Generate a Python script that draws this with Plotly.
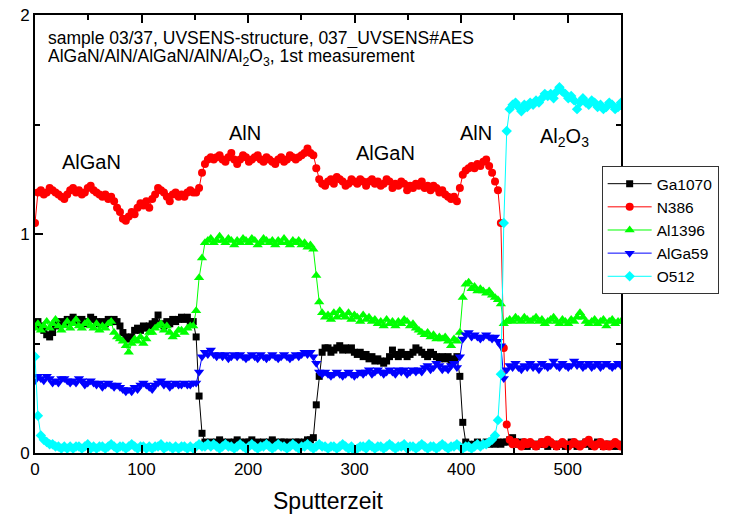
import plotly.graph_objects as go

# sampling grid of the depth profile (sputter time), 201 samples 0..550
sputter_time = [round(2.75 * i, 2) for i in range(201)]

ga1070 = [
    0.58, 0.60, 0.58, 0.56, 0.54, 0.53, 0.55, 0.58, 0.59, 0.60,
    0.59, 0.61, 0.60, 0.62, 0.61, 0.60, 0.61, 0.59, 0.60, 0.62,
    0.61, 0.60, 0.59, 0.60, 0.59, 0.61, 0.60, 0.61, 0.60, 0.58,
    0.55, 0.53, 0.52, 0.53, 0.56, 0.57, 0.56, 0.58, 0.57, 0.58,
    0.59, 0.60, 0.63, 0.59, 0.58, 0.60, 0.59, 0.61, 0.60, 0.61,
    0.62, 0.61, 0.62, 0.60, 0.60, 0.53, 0.26, 0.09, 0.05, 0.04,
    0.05, 0.04, 0.05, 0.06, 0.05, 0.04, 0.05, 0.04, 0.05, 0.06,
    0.05, 0.04, 0.05, 0.05, 0.06, 0.04, 0.05, 0.04, 0.05, 0.04,
    0.05, 0.06, 0.05, 0.04, 0.05, 0.05, 0.04, 0.05, 0.04, 0.05,
    0.05, 0.04, 0.05, 0.06, 0.06, 0.07, 0.22, 0.35, 0.46, 0.48,
    0.48, 0.46, 0.47, 0.48, 0.49, 0.47, 0.48, 0.47, 0.48, 0.46,
    0.45, 0.46, 0.44, 0.45, 0.43, 0.44, 0.42, 0.43, 0.42, 0.41,
    0.42, 0.44, 0.47, 0.45, 0.44, 0.46, 0.45, 0.44, 0.45, 0.46,
    0.48, 0.47, 0.46, 0.45, 0.44, 0.46, 0.45, 0.44, 0.43, 0.44,
    0.43, 0.44, 0.42, 0.43, 0.44, 0.35, 0.14, 0.05, 0.04, 0.03,
    0.04, 0.05, 0.04, 0.04, 0.05, 0.04, 0.05, 0.04, 0.05, 0.04,
    0.05, 0.05, 0.06, 0.07, 0.05, 0.04, 0.05, 0.04, 0.03, 0.04,
    0.04, 0.03, 0.04, 0.05, 0.04, 0.03, 0.04, 0.04, 0.03, 0.04,
    0.04, 0.03, 0.04, 0.05, 0.04, 0.03, 0.04, 0.04, 0.05, 0.04,
    0.03, 0.04, 0.05, 0.04, 0.03, 0.04, 0.04, 0.03, 0.04, 0.03, 0.04,
]

n386 = [
    1.05, 1.19, 1.20, 1.18, 1.19, 1.21, 1.20, 1.19, 1.18, 1.17,
    1.16, 1.18, 1.20, 1.21, 1.19, 1.20, 1.18, 1.19, 1.21, 1.22,
    1.20, 1.19, 1.18, 1.17, 1.18, 1.16, 1.17, 1.15, 1.12, 1.10,
    1.07, 1.06, 1.08, 1.10, 1.09, 1.12, 1.14, 1.13, 1.15, 1.12,
    1.16, 1.18, 1.21, 1.20, 1.19, 1.17, 1.15, 1.18, 1.19, 1.17,
    1.18, 1.17, 1.19, 1.20, 1.19, 1.19, 1.21, 1.28, 1.32, 1.34,
    1.35, 1.34, 1.35, 1.36, 1.34, 1.33, 1.35, 1.37, 1.34, 1.32,
    1.34, 1.36, 1.35, 1.33, 1.34, 1.35, 1.36, 1.34, 1.33, 1.35,
    1.34, 1.33, 1.32, 1.34, 1.35, 1.33, 1.34, 1.36, 1.35, 1.34,
    1.35, 1.36, 1.37, 1.39, 1.37, 1.36, 1.30, 1.25, 1.23, 1.22,
    1.24, 1.25, 1.23, 1.26, 1.25, 1.24, 1.22, 1.23, 1.25, 1.24,
    1.23, 1.25, 1.24, 1.22, 1.24, 1.25, 1.23, 1.24, 1.22, 1.23,
    1.25, 1.24, 1.21, 1.23, 1.22, 1.24, 1.23, 1.20, 1.22, 1.21,
    1.23, 1.22, 1.24, 1.21, 1.22, 1.20, 1.22, 1.21, 1.19, 1.20,
    1.18, 1.17, 1.16, 1.17, 1.15, 1.21, 1.27, 1.29, 1.30, 1.31,
    1.30, 1.32, 1.31, 1.33, 1.34, 1.31, 1.28, 1.24, 1.20, 1.05,
    0.48, 0.13, 0.06, 0.04, 0.05, 0.04, 0.03, 0.05, 0.04, 0.05,
    0.04, 0.03, 0.04, 0.05, 0.04, 0.06, 0.05, 0.04, 0.03, 0.04,
    0.05, 0.04, 0.03, 0.04, 0.05, 0.04, 0.03, 0.04, 0.05, 0.06,
    0.04, 0.03, 0.04, 0.05, 0.03, 0.04, 0.03, 0.04, 0.05, 0.04, 0.03,
]

al1396 = [
    0.57, 0.59, 0.56, 0.58, 0.60, 0.57, 0.59, 0.61, 0.58, 0.56,
    0.58, 0.60, 0.57, 0.59, 0.61, 0.58, 0.57, 0.59, 0.60, 0.58,
    0.57, 0.59, 0.56, 0.58, 0.57, 0.59, 0.60, 0.55, 0.53, 0.52,
    0.51, 0.49, 0.46, 0.50, 0.52, 0.51, 0.53, 0.50, 0.52, 0.55,
    0.55, 0.57, 0.58, 0.59, 0.56, 0.58, 0.55, 0.53, 0.54, 0.56,
    0.56, 0.55, 0.57, 0.58, 0.58, 0.65, 0.80, 0.89, 0.96, 0.97,
    0.98, 0.96, 0.97, 0.99, 0.97, 0.96, 0.98, 0.97, 0.95, 0.97,
    0.96, 0.98, 0.97, 0.96, 0.98, 0.97, 0.95, 0.96, 0.98, 0.97,
    0.96, 0.97, 0.95, 0.97, 0.96, 0.98, 0.96, 0.95, 0.97, 0.96,
    0.97, 0.95, 0.96, 0.94, 0.95, 0.93, 0.81, 0.69, 0.64, 0.62,
    0.63, 0.61, 0.64, 0.62, 0.65, 0.63, 0.62, 0.64, 0.61, 0.63,
    0.62, 0.60, 0.63, 0.61, 0.62, 0.60, 0.61, 0.59, 0.60, 0.58,
    0.61, 0.59, 0.60, 0.58, 0.60, 0.59, 0.61, 0.60, 0.58, 0.59,
    0.57, 0.56, 0.55, 0.54, 0.55, 0.53, 0.54, 0.52, 0.53, 0.52,
    0.53, 0.51, 0.49, 0.52, 0.51, 0.55, 0.71, 0.77, 0.78, 0.75,
    0.76, 0.74, 0.75, 0.74, 0.73, 0.74, 0.72, 0.71, 0.70, 0.68,
    0.59, 0.60, 0.61, 0.60, 0.62, 0.61, 0.60, 0.62, 0.61, 0.60,
    0.61, 0.62, 0.60, 0.61, 0.59, 0.60, 0.61, 0.62, 0.60, 0.59,
    0.61, 0.60, 0.59, 0.61, 0.60, 0.62, 0.64, 0.62, 0.60, 0.59,
    0.60, 0.61, 0.59, 0.60, 0.61, 0.58, 0.60, 0.61, 0.59, 0.60, 0.60,
]

alga59 = [
    0.33, 0.35, 0.34, 0.33, 0.35, 0.34, 0.32, 0.33, 0.32, 0.34,
    0.34, 0.33, 0.32, 0.33, 0.32, 0.34, 0.33, 0.31, 0.32, 0.33,
    0.32, 0.31, 0.32, 0.30, 0.31, 0.32, 0.31, 0.30, 0.31, 0.30,
    0.29, 0.28, 0.29, 0.28, 0.30, 0.29, 0.31, 0.32, 0.31, 0.30,
    0.29, 0.31, 0.32, 0.33, 0.31, 0.32, 0.30, 0.31, 0.32, 0.31,
    0.31, 0.32, 0.31, 0.31, 0.32, 0.32, 0.37, 0.44, 0.46, 0.45,
    0.47, 0.45, 0.44, 0.45, 0.44, 0.45, 0.43, 0.44, 0.45, 0.44,
    0.45, 0.44, 0.43, 0.44, 0.45, 0.44, 0.43, 0.45, 0.44, 0.43,
    0.44, 0.45, 0.44, 0.43, 0.44, 0.45, 0.44, 0.43, 0.44, 0.45,
    0.44, 0.45, 0.46, 0.45, 0.46, 0.44, 0.41, 0.37, 0.36, 0.37,
    0.36, 0.35, 0.36, 0.37, 0.36, 0.35, 0.36, 0.37, 0.36, 0.35,
    0.36, 0.37, 0.36, 0.37, 0.38, 0.36, 0.37, 0.38, 0.37, 0.36,
    0.37, 0.38, 0.37, 0.36, 0.38, 0.37, 0.38, 0.36, 0.37, 0.38,
    0.37, 0.38, 0.37, 0.39, 0.40, 0.38, 0.39, 0.41, 0.40, 0.38,
    0.39, 0.38, 0.40, 0.41, 0.39, 0.44, 0.52, 0.54, 0.55, 0.53,
    0.54, 0.53, 0.52, 0.53, 0.54, 0.53, 0.52, 0.53, 0.51, 0.49,
    0.34, 0.38, 0.40, 0.39, 0.41, 0.39, 0.38, 0.40, 0.39, 0.41,
    0.39, 0.40, 0.38, 0.41, 0.40, 0.39, 0.40, 0.42, 0.40, 0.39,
    0.41, 0.40, 0.39, 0.40, 0.42, 0.40, 0.41, 0.39, 0.40, 0.41,
    0.39, 0.40, 0.41, 0.39, 0.40, 0.41, 0.40, 0.39, 0.40, 0.41, 0.40,
]

o512 = [
    0.44, 0.17, 0.08, 0.06, 0.05, 0.04, 0.04, 0.03, 0.03, 0.02,
    0.03, 0.02, 0.03, 0.02, 0.03, 0.03, 0.02, 0.03, 0.04, 0.02,
    0.03, 0.02, 0.03, 0.03, 0.02, 0.03, 0.04, 0.03, 0.02, 0.03,
    0.03, 0.02, 0.03, 0.04, 0.03, 0.02, 0.03, 0.03, 0.02, 0.03,
    0.02, 0.03, 0.03, 0.04, 0.02, 0.03, 0.03, 0.02, 0.03, 0.02,
    0.03, 0.03, 0.02, 0.03, 0.02, 0.03, 0.04, 0.03, 0.03, 0.04,
    0.03, 0.04, 0.03, 0.02, 0.03, 0.04, 0.03, 0.03, 0.02, 0.03,
    0.04, 0.03, 0.02, 0.03, 0.04, 0.03, 0.02, 0.03, 0.03, 0.04,
    0.03, 0.02, 0.03, 0.04, 0.03, 0.03, 0.02, 0.03, 0.04, 0.03,
    0.02, 0.03, 0.03, 0.04, 0.03, 0.02, 0.03, 0.04, 0.03, 0.03,
    0.02, 0.03, 0.03, 0.02, 0.03, 0.04, 0.03, 0.02, 0.03, 0.01,
    0.02, 0.03, 0.03, 0.02, 0.04, 0.03, 0.02, 0.03, 0.03, 0.02,
    0.03, 0.04, 0.03, 0.02, 0.03, 0.03, 0.04, 0.02, 0.03, 0.03,
    0.02, 0.03, 0.04, 0.03, 0.02, 0.03, 0.03, 0.02, 0.03, 0.04,
    0.03, 0.02, 0.03, 0.03, 0.04, 0.03, 0.02, 0.03, 0.03, 0.02,
    0.03, 0.04, 0.03, 0.04, 0.04, 0.05, 0.06, 0.08, 0.15, 0.36,
    1.05, 1.47, 1.57, 1.59, 1.60, 1.58, 1.56, 1.59, 1.58, 1.60,
    1.59, 1.61, 1.60, 1.62, 1.64, 1.63, 1.64, 1.62, 1.65, 1.67,
    1.65, 1.64, 1.62, 1.63, 1.61, 1.57, 1.60, 1.62, 1.60, 1.59,
    1.61, 1.60, 1.58, 1.59, 1.57, 1.58, 1.60, 1.59, 1.57, 1.58, 1.60,
]

series_names = ["Ga1070", "N386", "Al1396", "AlGa59", "O512"]
series_values = [ga1070, n386, al1396, alga59, o512]
series_colors = ["#000000", "#ff0000", "#00ff00", "#0000ff", "#00ffff"]
series_symbols = ["square", "circle", "triangle-up", "triangle-down", "diamond"]
series_sizes = [7, 8, 9, 9, 8]

layer_labels = ["AlGaN", "AlN", "AlGaN", "AlN", "Al<sub>2</sub>O<sub>3</sub>"]
layer_x = [53, 197, 329, 414, 497]
layer_y = [1.33, 1.46, 1.37, 1.46, 1.44]

header_lines = [
    "sample 03/37, UVSENS-structure, 037_UVSENS#AES",
    "AlGaN/AlN/AlGaN/AlN/Al<sub>2</sub>O<sub>3</sub>, 1st measurement",
]

for v in series_values:
    assert len(v) == len(sputter_time), len(v)

FONT = "Liberation Sans, Arial, sans-serif"

fig = go.Figure()
for name, vals, col, sym, sz in zip(series_names, series_values, series_colors,
                                     series_symbols, series_sizes):
    fig.add_trace(go.Scatter(
        x=sputter_time, y=vals, name=name, mode="lines+markers",
        line=dict(color=col, width=1),
        marker=dict(color=col, symbol=sym, size=sz, line=dict(width=0)),
    ))

for lab, lx, ly in zip(layer_labels, layer_x, layer_y):
    fig.add_annotation(x=lx, y=ly, xref="x", yref="y", text=lab, showarrow=False,
                       font=dict(family=FONT, size=20, color="black"))

fig.add_annotation(x=0.019, y=0.947, xref="paper", yref="paper", text=header_lines[0],
                   showarrow=False, xanchor="left", yanchor="middle", height=19,
                   font=dict(family=FONT, size=17.5, color="black"))
fig.add_annotation(x=0.019, y=0.902, xref="paper", yref="paper", text=header_lines[1],
                   showarrow=False, xanchor="left", yanchor="middle", height=19,
                   font=dict(family=FONT, size=17.5, color="black"))

axis_common = dict(
    showline=True, linewidth=2, linecolor="black", mirror="ticks",
    ticks="inside", ticklen=8, tickwidth=1.5, tickcolor="black",
    showgrid=False, zeroline=False, automargin=False,
    tickfont=dict(family=FONT, size=17, color="black"),
)

fig.update_xaxes(range=[0, 550], tick0=0, dtick=100,
                 minor=dict(dtick=50, ticks="inside", ticklen=5, tickwidth=1.5, tickcolor="black"),
                 title=dict(text="Sputterzeit", font=dict(family=FONT, size=23, color="black"), standoff=14),
                 **axis_common)
fig.update_yaxes(range=[0, 2], tick0=0, dtick=1,
                 minor=dict(dtick=0.5, ticks="inside", ticklen=5, tickwidth=1.5, tickcolor="black"),
                 **axis_common)

fig.update_layout(
    width=736, height=517,
    margin=dict(l=35, r=115, t=15, b=64, autoexpand=False),
    paper_bgcolor="white", plot_bgcolor="white",
    font=dict(family=FONT, size=17, color="black"),
    showlegend=True,
    legend=dict(x=0.967, y=0.655, xanchor="left", yanchor="top",
                bgcolor="white", bordercolor="#333333", borderwidth=1,
                font=dict(family=FONT, size=15.5, color="black"),
                itemwidth=44, tracegroupgap=0),
)

# remove the browser's default page margin so the figure fills the window exactly
fig.write_html("out.html", config={"displayModeBar": False},
               post_script="document.body.style.margin='0';")
